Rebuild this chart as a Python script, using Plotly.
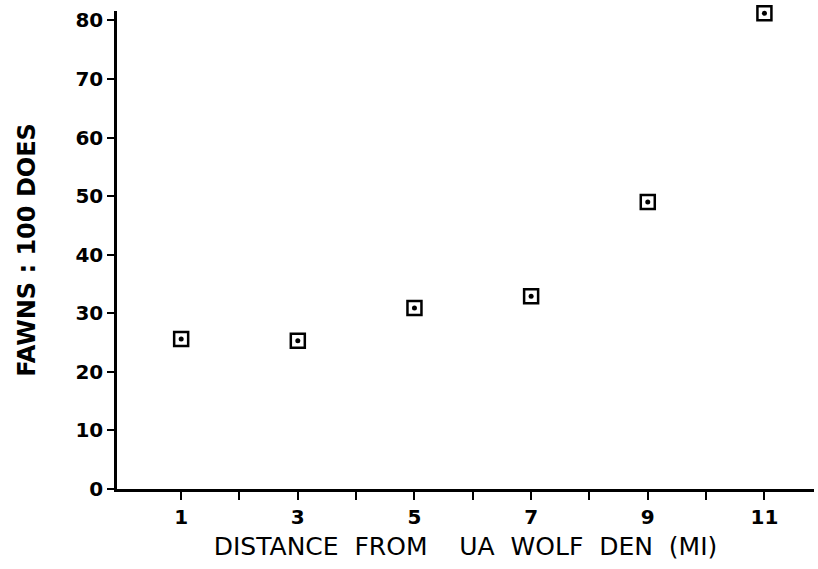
import plotly.graph_objects as go

distance = [1, 3, 5, 7, 9, 11]
fawns = [25.6, 25.3, 30.9, 32.9, 49.0, 81.2]
x_tickvals = [1, 2, 3, 4, 5, 6, 7, 8, 9, 10, 11]
x_ticktext = ["1", "", "3", "", "5", "", "7", "", "9", "", "11"]
y_tickvals = [0, 10, 20, 30, 40, 50, 60, 70, 80]

fig = go.Figure()
fig.add_trace(go.Scatter(
    x=distance, y=fawns, mode="markers",
    marker=dict(symbol="square-open", size=14, color="black",
                line=dict(color="black", width=2.5)),
    cliponaxis=False, showlegend=False,
))
fig.add_trace(go.Scatter(
    x=distance, y=fawns, mode="markers",
    marker=dict(symbol="circle", size=5, color="black"),
    cliponaxis=False, showlegend=False,
))

fnt = dict(family="DejaVu Sans", size=20, color="black", weight="bold")
fig.update_layout(
    width=818, height=569,
    margin=dict(l=117, r=4, t=11, b=80),
    plot_bgcolor="white", paper_bgcolor="white",
    xaxis=dict(range=[-0.1, 11.85], tickvals=x_tickvals, ticktext=x_ticktext,
               ticks="outside", ticklen=8, tickwidth=2, tickcolor="black",
               showline=True, linecolor="black", linewidth=2.5,
               showgrid=False, zeroline=False, tickfont=fnt,
               title=dict(text="DISTANCE  FROM    UA  WOLF  DEN  (MI)",
                          font=dict(family="DejaVu Sans", size=25, color="black"),
                          standoff=10)),
    yaxis=dict(range=[0, 81.6], tickvals=y_tickvals,
               ticks="outside", ticklen=7, tickwidth=2, tickcolor="black",
               showline=True, linecolor="black", linewidth=2.5,
               showgrid=False, zeroline=False, tickfont=fnt,
               title=dict(text="FAWNS : 100 DOES",
                          font=dict(family="DejaVu Sans", size=24, color="black", weight="bold"),
                          standoff=34)),
)
fig.write_html("out.html")
